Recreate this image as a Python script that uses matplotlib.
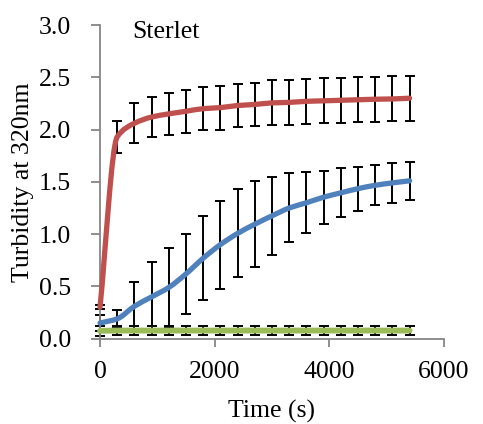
import numpy as np
import matplotlib
matplotlib.use("Agg")
import matplotlib.pyplot as plt
from matplotlib.path import Path
from matplotlib.patches import PathPatch

# ---- data ----
time_s = [0, 300, 600, 900, 1200, 1500, 1800, 2100, 2400, 2700, 3000,
          3300, 3600, 3900, 4200, 4500, 4800, 5100, 5400]
red_vals = [0.30, 1.93, 2.06, 2.12, 2.15, 2.175, 2.20, 2.21, 2.23, 2.24, 2.255,
            2.26, 2.27, 2.275, 2.28, 2.285, 2.29, 2.293, 2.30]
red_err = [0.02, 0.15, 0.19, 0.19, 0.20, 0.205, 0.208, 0.21, 0.21, 0.21, 0.215,
           0.215, 0.215, 0.215, 0.215, 0.215, 0.215, 0.215, 0.215]
blue_vals = [0.15, 0.19, 0.31, 0.40, 0.49, 0.62, 0.77, 0.90, 1.007, 1.095, 1.175,
             1.25, 1.30, 1.353, 1.395, 1.435, 1.467, 1.49, 1.51]
blue_err = [0.08, 0.08, 0.236, 0.337, 0.375, 0.38, 0.40, 0.42, 0.42, 0.41, 0.375,
            0.33, 0.29, 0.255, 0.235, 0.21, 0.19, 0.19, 0.18]
green_vals = [0.075, 0.078, 0.078, 0.078, 0.078, 0.078, 0.078, 0.078, 0.078, 0.078, 0.078,
              0.078, 0.078, 0.078, 0.078, 0.078, 0.078, 0.078, 0.078]
green_err = [0.045] * 19

x_ticks = [0, 2000, 4000, 6000]
y_ticks = [0.0, 0.5, 1.0, 1.5, 2.0, 2.5, 3.0]
title_text = "Sterlet"
xlabel = "Time (s)"
ylabel = "Turbidity at 320nm"

RED = "#C0504D"
BLUE = "#4F81BD"
GREEN = "#9BBB59"
AXC = "#868686"

plt.rcParams['font.family'] = ['Liberation Serif', 'DejaVu Serif']
FS = 18.5

fig = plt.figure(figsize=(4.83, 4.24), dpi=100)
ax = fig.add_axes([100/483, 85.3/424, 344/483, 313.7/424])


def pchip_slopes(x, y):
    h = np.diff(x)
    d = np.diff(y) / h
    n = len(x)
    m = np.zeros(n)
    for k in range(1, n - 1):
        if d[k - 1] * d[k] <= 0:
            m[k] = 0.0
        else:
            w1 = 2 * h[k] + h[k - 1]
            w2 = h[k] + 2 * h[k - 1]
            m[k] = (w1 + w2) / (w1 / d[k - 1] + w2 / d[k])
    m[0] = d[0]
    m[-1] = d[-1]
    return m


def smooth_path(xs, ys):
    x = np.asarray(xs, float)
    y = np.asarray(ys, float)
    m = pchip_slopes(x, y)
    verts = [(x[0], y[0])]
    codes = [Path.MOVETO]
    for i in range(len(x) - 1):
        h = x[i + 1] - x[i]
        verts += [(x[i] + h / 3, y[i] + m[i] * h / 3),
                  (x[i + 1] - h / 3, y[i + 1] - m[i + 1] * h / 3),
                  (x[i + 1], y[i + 1])]
        codes += [Path.CURVE4] * 3
    return Path(verts, codes)


for vals, errs, col, lw in [(green_vals, green_err, GREEN, 4.2),
                            (blue_vals, blue_err, BLUE, 3.8),
                            (red_vals, red_err, RED, 3.8)]:
    ax.errorbar(time_s, vals, yerr=errs, fmt='none', ecolor='black',
                elinewidth=1.4, capsize=3.8, capthick=1.4, zorder=2, clip_on=False)
    patch = PathPatch(smooth_path(time_s, vals), facecolor='none', edgecolor=col,
                      lw=lw, capstyle='round', joinstyle='round', zorder=3, clip_on=False)
    ax.add_patch(patch)

ax.set_xlim(0, 6000)
ax.set_ylim(0, 3.0)
ax.set_xticks(x_ticks)
ax.set_yticks(y_ticks)
ax.set_xticklabels([str(v) for v in x_ticks])
ax.set_yticklabels([f"{v:.1f}" for v in y_ticks])

for side in ['top', 'right']:
    ax.spines[side].set_visible(False)
for side in ['left', 'bottom']:
    ax.spines[side].set_color(AXC)
    ax.spines[side].set_linewidth(1.3)

ax.tick_params(axis='y', direction='out', length=6.5, width=1.3, color=AXC,
               labelsize=FS, pad=14.5)
ax.tick_params(axis='x', direction='out', length=6, width=1.3, color=AXC,
               labelsize=FS, pad=10)

ax.set_xlabel(xlabel, fontsize=FS, labelpad=12)
ax.set_ylabel(ylabel, fontsize=FS, labelpad=3)

ax.text(560, 2.88, title_text, fontsize=FS, ha='left', va='baseline')

fig.savefig("out.png", dpi=100)
